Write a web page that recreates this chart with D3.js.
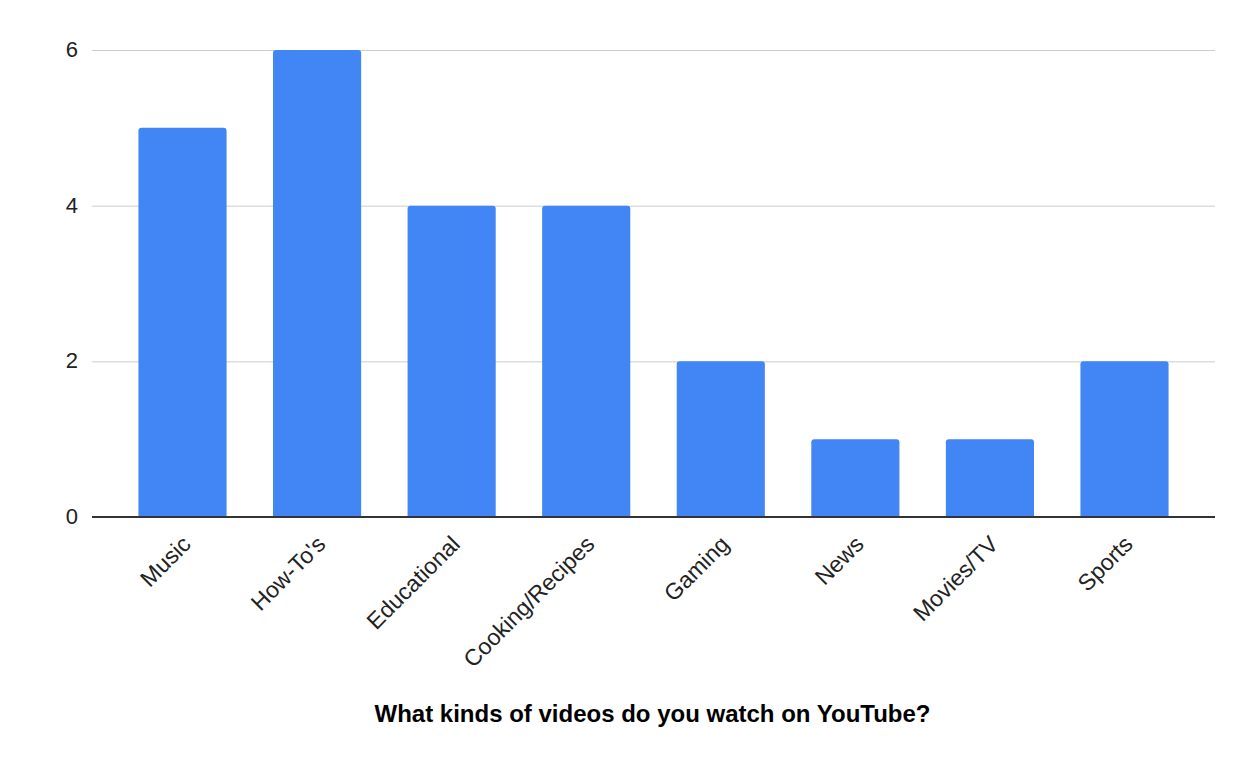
<!DOCTYPE html>
<html>
  <head>
    <style>
      body { margin: 0; background: #fff; }
      text { font-family: "Liberation Sans", Arial, sans-serif; }
    </style>
  </head>
  <body>
    <svg width="1254" height="764"></svg>

    <script src="https://d3js.org/d3.v7.min.js"></script>
    <script>

      var categories = ["Music", "How-To's", "Educational", "Cooking/Recipes", "Gaming", "News", "Movies/TV", "Sports"];
      var counts = [5, 6, 4, 4, 2, 1, 1, 2];
      var yTicks = [0, 2, 4, 6];
      var xTitle = "What kinds of videos do you watch on YouTube?";

      var svg = d3.select("svg"),
        margin = { top: 50, right: 39, bottom: 247, left: 92 },
        width = +svg.attr("width"),
        height = +svg.attr("height");

      var x = d3.scaleBand()
        .domain(categories)
        .range([margin.left, width - margin.right])
        .paddingInner(0.345)
        .paddingOuter(0.345);

      var y = d3.scaleLinear()
        .domain([0, 6])
        .range([height - margin.bottom, margin.top]);

      // gridlines + y labels
      var yAxis = svg.append("g")
        .attr("transform", "translate(" + margin.left + ",0)")
        .call(d3.axisLeft(y).tickValues(yTicks).tickSize(-(width - margin.left - margin.right)).tickFormat(d3.format("d")));
      yAxis.select(".domain").remove();
      yAxis.selectAll(".tick line").attr("stroke", "#cccccc");
      yAxis.selectAll(".tick text")
        .attr("x", -14)
        .attr("dy", "0.3em")
        .attr("fill", "#222")
        .style("font-size", "22px")
        .style("font-family", "Liberation Sans, Arial, sans-serif");

      // bars with slightly rounded tops
      var r = 3;
      svg.append("g")
        .attr("fill", "#4285f4")
        .selectAll("path")
        .data(counts)
        .enter().append("path")
        .attr("d", function (d, i) {
          var x0 = x(categories[i]), x1 = x0 + x.bandwidth(),
            y0 = y(0), y1 = y(d);
          return "M" + x0 + "," + y0 +
            "V" + (y1 + r) + "Q" + x0 + "," + y1 + " " + (x0 + r) + "," + y1 +
            "H" + (x1 - r) + "Q" + x1 + "," + y1 + " " + x1 + "," + (y1 + r) +
            "V" + y0 + "Z";
        });

      // baseline
      svg.append("line")
        .attr("x1", margin.left)
        .attr("x2", width - margin.right)
        .attr("y1", y(0))
        .attr("y2", y(0))
        .attr("stroke", "#333")
        .attr("stroke-width", 2);

      // rotated category labels
      svg.append("g")
        .selectAll("text")
        .data(categories)
        .enter().append("text")
        .attr("transform", function (d) {
          return "translate(" + (x(d) + x.bandwidth() / 2 + 4) + "," + (y(0) + 23) + ") rotate(-45)";
        })
        .attr("text-anchor", "end")
        .attr("dy", "0.35em")
        .attr("fill", "#222")
        .style("font-size", "23px")
        .text(function (d) { return d; });

      svg.append("text")
        .attr("x", (margin.left + width - margin.right) / 2 - 1)
        .attr("y", 722)
        .attr("text-anchor", "middle")
        .attr("fill", "#000")
        .style("font-size", "24px")
        .style("font-weight", "bold")
        .text(xTitle);

    </script>
  </body>
</html>
